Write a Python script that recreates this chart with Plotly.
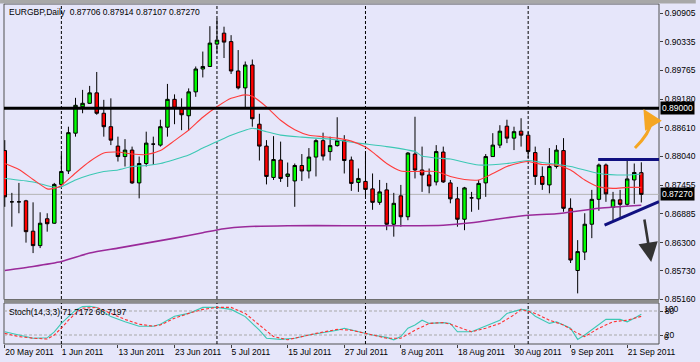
import plotly.graph_objects as go
import pandas as pd

# ---------------- data ----------------
dates = pd.bdate_range("2011-05-20", "2011-09-23")   # 91 daily bars
bars = list(range(len(dates)))

opens = [0.8815, 0.8712, 0.8712, 0.8714, 0.8653, 0.8624, 0.8678, 0.8669, 0.8747, 0.8774,
         0.8850, 0.8903, 0.8910, 0.8931, 0.8890, 0.8863, 0.8824, 0.8803, 0.8816, 0.8750,
         0.8789, 0.8828, 0.8826, 0.8862, 0.8918, 0.8900, 0.8885, 0.8933, 0.8979, 0.8984,
         0.9029, 0.9051, 0.9034, 0.8975, 0.8941, 0.8987, 0.8868, 0.8824, 0.8761, 0.8796,
         0.8763, 0.8754, 0.8785, 0.8774, 0.8802, 0.8835, 0.8813, 0.8825, 0.8835, 0.8796,
         0.8751, 0.8753, 0.8738, 0.8711, 0.8736, 0.8667, 0.8724, 0.8682, 0.8808, 0.8776,
         0.8766, 0.8752, 0.8812, 0.8750, 0.8718, 0.8677, 0.8720, 0.8718, 0.8750, 0.8803,
         0.8826, 0.8864, 0.8840, 0.8854, 0.8846, 0.8811, 0.8763, 0.8746, 0.8783, 0.8815,
         0.8699, 0.8574, 0.8611, 0.8667, 0.8717, 0.8786, 0.8701, 0.8716, 0.8707, 0.8756,
         0.87706]
highs = [0.8836, 0.8730, 0.8750, 0.8716, 0.8711, 0.8691, 0.8689, 0.8750, 0.8808, 0.8863,
         0.8921, 0.8937, 0.8945, 0.8973, 0.8917, 0.8920, 0.8843, 0.8838, 0.8823, 0.8803,
         0.8853, 0.8843, 0.8877, 0.8949, 0.8928, 0.8920, 0.8940, 0.8984, 0.9014, 0.9065,
         0.9080, 0.9064, 0.9047, 0.9017, 0.8994, 0.8998, 0.8889, 0.8836, 0.8844, 0.8833,
         0.8791, 0.8789, 0.8808, 0.8820, 0.8838, 0.8851, 0.8843, 0.8882, 0.8846, 0.8803,
         0.8779, 0.8813, 0.8769, 0.8756, 0.8750, 0.8730, 0.8746, 0.8812, 0.8883, 0.8823,
         0.8779, 0.8826, 0.8823, 0.8756, 0.8742, 0.8742, 0.8732, 0.8756, 0.8808, 0.8850,
         0.8866, 0.8877, 0.8863, 0.8880, 0.8853, 0.8823, 0.8783, 0.8820, 0.8826, 0.8840,
         0.8719, 0.8635, 0.8689, 0.8736, 0.8789, 0.8789, 0.8732, 0.8736, 0.8794, 0.8789,
         0.87914]
lows = [0.8702, 0.8662, 0.8689, 0.8630, 0.8609, 0.8619, 0.8652, 0.8668, 0.8742, 0.8768,
        0.8843, 0.8890, 0.8909, 0.8887, 0.8843, 0.8826, 0.8793, 0.8783, 0.8748, 0.8719,
        0.8783, 0.8786, 0.8823, 0.8843, 0.8868, 0.8856, 0.8855, 0.8923, 0.8962, 0.8983,
        0.9011, 0.9001, 0.8969, 0.8938, 0.8900, 0.8863, 0.8795, 0.8747, 0.8756, 0.8752,
        0.8742, 0.8702, 0.8754, 0.8759, 0.8763, 0.8795, 0.8795, 0.8823, 0.8769, 0.8734,
        0.8732, 0.8722, 0.8696, 0.8706, 0.8655, 0.8642, 0.8662, 0.8675, 0.8759, 0.8732,
        0.8729, 0.8745, 0.8750, 0.8709, 0.8662, 0.8655, 0.8692, 0.8696, 0.8722, 0.8803,
        0.8820, 0.8830, 0.8816, 0.8823, 0.8800, 0.8746, 0.8736, 0.8729, 0.8779, 0.8692,
        0.8589, 0.8528, 0.8595, 0.8639, 0.8694, 0.8712, 0.8675, 0.8679, 0.8704, 0.8708,
        0.87107]
closes = [0.8722, 0.8712, 0.8712, 0.8652, 0.8624, 0.8669, 0.8668, 0.8747, 0.8773, 0.8851,
          0.8906, 0.8910, 0.8931, 0.8890, 0.8863, 0.8836, 0.8803, 0.8816, 0.8750, 0.8789,
          0.8830, 0.8828, 0.8863, 0.8918, 0.8900, 0.8887, 0.8933, 0.8979, 0.8984, 0.9031,
          0.9037, 0.9033, 0.8975, 0.8941, 0.8987, 0.8879, 0.8824, 0.8763, 0.8797, 0.8759,
          0.8768, 0.8785, 0.8774, 0.8802, 0.8835, 0.8804, 0.8825, 0.8835, 0.8795, 0.8749,
          0.8759, 0.8737, 0.8711, 0.8732, 0.8667, 0.8709, 0.8682, 0.8810, 0.8776, 0.8766,
          0.8744, 0.8813, 0.8752, 0.8718, 0.8677, 0.8740, 0.8720, 0.8749, 0.8803, 0.8826,
          0.8854, 0.8840, 0.8853, 0.8846, 0.8813, 0.8763, 0.8747, 0.8783, 0.8816, 0.8699,
          0.8595, 0.8612, 0.8667, 0.8717, 0.8786, 0.8728, 0.8716, 0.8707, 0.8758, 0.8771,
          0.87270]

# moving averages (at sample bars)
ma_red_bar = [0, 2, 4, 6, 7, 8, 10, 12, 14, 16, 18, 20, 22, 24, 26, 28, 30, 32, 34, 35, 37, 39,
              41, 43, 45, 47, 49, 51, 52, 54, 56, 58, 61, 63, 65, 67, 69, 71, 73, 74, 76, 78,
              80, 82, 84, 86, 88, 90]
ma_red = [0.8789, 0.8777, 0.8757, 0.8738, 0.8739, 0.8745, 0.8770, 0.8793, 0.8810, 0.8812,
          0.8808, 0.8807, 0.8815, 0.8835, 0.8856, 0.8882, 0.8903, 0.8920, 0.8927, 0.8924,
          0.8903, 0.8876, 0.8857, 0.8846, 0.8843, 0.8840, 0.8834, 0.8822, 0.8812, 0.8789,
          0.8774, 0.8773, 0.8773, 0.8763, 0.8757, 0.8756, 0.8769, 0.8783, 0.8791, 0.8793,
          0.8787, 0.8786, 0.8776, 0.8756, 0.8742, 0.8739, 0.8741, 0.8741]
ma_teal_bar = [0, 4, 7, 8, 10, 12, 14, 16, 18, 20, 22, 24, 26, 28, 30, 32, 34, 35, 37, 39, 42,
               46, 50, 54, 58, 59, 61, 63, 67, 71, 74, 76, 80, 84, 88, 90]
ma_teal = [0.8759, 0.8752, 0.8741, 0.8742, 0.8756, 0.8766, 0.8773, 0.8776, 0.8783, 0.8785,
           0.8789, 0.8797, 0.8806, 0.8820, 0.8833, 0.8846, 0.8856, 0.8860, 0.8853, 0.8846,
           0.8842, 0.8838, 0.8830, 0.8823, 0.8813, 0.8804, 0.8800, 0.8798, 0.8786, 0.8789,
           0.8795, 0.8791, 0.8783, 0.8769, 0.8766, 0.8768]
ma_purple_bar = [0, 4, 8, 12, 16, 20, 24, 28, 31, 34, 40, 48, 56, 62, 66, 70, 74, 78, 84, 90]
ma_purple = [0.8574, 0.8582, 0.8592, 0.8609, 0.8619, 0.8629, 0.8639, 0.8650, 0.8658, 0.8662,
             0.8664, 0.8664, 0.8664, 0.8665, 0.8670, 0.8678, 0.8685, 0.8688, 0.8699, 0.8705]

# stochastic (14,3,3)
stoch_main_bar = [0, 2, 4, 6, 7, 8, 9, 10, 11, 12, 13, 14, 15, 17, 19, 21, 22, 24, 26, 28, 30,
                  32, 34, 36, 37, 39, 41, 43, 45, 47, 48, 50, 52, 54, 55, 56, 57, 58, 59, 60,
                  62, 63, 64, 66, 68, 70, 71, 73, 74, 75, 77, 78, 80, 81, 82, 84, 85, 87, 88,
                  89, 90]
stoch_main = [28, 20, 12, 13, 28, 49, 66, 82, 91, 92, 89, 78, 66, 53, 42, 42, 47, 67, 74, 89, 89,
              84, 66, 32, 12, 9, 12, 20, 26, 32, 37, 28, 20, 14, 8, 16, 37, 45, 57, 49,
              51, 49, 28, 28, 42, 57, 74, 84, 82, 67, 49, 53, 37, 9, 20, 45, 59, 59, 53,
              62, 71.7172]
stoch_sig_bar = [0, 2, 4, 6, 7, 8, 9, 10, 11, 13, 15, 17, 19, 21, 22, 24, 26, 28, 30, 32, 34,
                 36, 38, 40, 42, 44, 47, 49, 51, 52, 54, 56, 58, 60, 62, 63, 64, 66, 68, 70,
                 72, 73, 75, 77, 79, 81, 82, 84, 86, 88, 89, 90]
stoch_sig = [24, 16, 12, 10, 20, 37, 57, 74, 87, 89, 74, 59, 47, 42, 45, 62, 74, 84, 89, 89, 74,
             45, 16, 8, 16, 24, 34, 32, 24, 20, 12, 12, 32, 49, 51, 47, 40, 28, 37, 49,
             70, 84, 74, 57, 45, 24, 16, 37, 53, 57, 62, 66.7197]

price_ticks = [0.90905, 0.90335, 0.89765, 0.89180, 0.88610, 0.88040, 0.87455, 0.86885,
               0.86300, 0.85730, 0.85160]
stoch_ticks = [80, 20]
tick_bars = [0, 8, 16, 24, 32, 40, 48, 56, 64, 72, 80, 88]
tick_labels = [f"{dates[i].day} {dates[i]:%b %Y}" for i in tick_bars]
month_starts = [i for i in range(1, len(dates)) if dates[i].month != dates[i - 1].month]

level_price = 0.89000
last_price = closes[-1]
title_text = "EURGBP,Daily\u00a0\u00a0" + " ".join(f"{v:.5f}" for v in
                                                 (opens[-1], highs[-1], lows[-1], closes[-1]))
stoch_text = f"Stoch(14,3,3) {stoch_main[-1]:.4f} {stoch_sig[-1]:.4f}"

# hand-drawn objects (bar index, price)
resist_line = dict(x0=83.9, y0=0.8797, x1=92.5, y1=0.8797)
support_line = dict(x0=84.8, y0=0.86654, x1=92.5, y1=0.87123)
up_tail = (89.1, 0.88202, 91.2, 0.88500, 91.4, 0.88725)
up_tip = (90.3, 0.88986)
down_tail = (90.4, 0.86795)
down_tip = (91.4, 0.85911)

# ---------------- figure ----------------
BG = "#E6E6FA"
FONT = "Liberation Sans, Arial, sans-serif"
W, H = 700, 362
ML, MR, MT, MB = 4, 37, 4, 18
PH = H - MT - MB
PW = W - ML - MR
main_bottom = (H - MB - 299.5) / PH
stoch_top = (H - MB - 303) / PH

fig = go.Figure()
fig.add_trace(go.Candlestick(
    x=bars, open=opens, high=highs, low=lows, close=closes,
    increasing=dict(line=dict(color="#000000", width=1), fillcolor="#00FF00"),
    decreasing=dict(line=dict(color="#000000", width=1), fillcolor="#FF0000"),
    whiskerwidth=0, xaxis="x", yaxis="y", hoverinfo="skip"))
fig.add_trace(go.Scatter(x=ma_purple_bar, y=ma_purple, mode="lines", xaxis="x", yaxis="y",
                         line=dict(color="#9A2A9A", width=1.6, shape="spline", smoothing=0.6)))
fig.add_trace(go.Scatter(x=ma_teal_bar, y=ma_teal, mode="lines", xaxis="x", yaxis="y",
                         line=dict(color="#3CC8B4", width=1.1, shape="spline", smoothing=0.6)))
fig.add_trace(go.Scatter(x=ma_red_bar, y=ma_red, mode="lines", xaxis="x", yaxis="y",
                         line=dict(color="#FF3C3C", width=1.1, shape="spline", smoothing=0.6)))
fig.add_trace(go.Scatter(x=stoch_main_bar, y=stoch_main, mode="lines", xaxis="x", yaxis="y2",
                         line=dict(color="#3CC8B4", width=1.1)))
fig.add_trace(go.Scatter(x=stoch_sig_bar, y=stoch_sig, mode="lines", xaxis="x", yaxis="y2",
                         line=dict(color="#FF3030", width=1.1, dash="3px,2px")))

shapes = []
# panel frames
shapes.append(dict(type="rect", xref="paper", yref="paper", x0=0, x1=1, y0=main_bottom, y1=1,
                   line=dict(color="#505050", width=1), layer="below"))
shapes.append(dict(type="rect", xref="paper", yref="paper", x0=0, x1=1, y0=0, y1=stoch_top,
                   line=dict(color="#505050", width=1), layer="below"))
# separator band between panels
shapes.append(dict(type="rect", xref="paper", yref="paper", x0=0, x1=1, y0=stoch_top,
                   y1=main_bottom, fillcolor="#8C8C8C", line=dict(width=0)))
# top window strip
shapes.append(dict(type="rect", xref="paper", yref="paper", x0=-ML / PW, x1=1 + MR / PW,
                   y0=1 + 0.5 / PH, y1=1 + MT / PH, fillcolor="#A8A8A8", line=dict(width=0)))
# month separators
for b in month_starts:
    shapes.append(dict(type="line", xref="x", yref="paper", x0=b, x1=b, y0=0, y1=1,
                       line=dict(color="#000000", width=1, dash="3px,2px"), layer="below"))
# last price line
shapes.append(dict(type="line", xref="paper", yref="y", x0=0, x1=1, y0=last_price,
                   y1=last_price, line=dict(color="#B4B4B4", width=1), layer="below"))
# stoch levels
for lv in stoch_ticks:
    shapes.append(dict(type="line", xref="paper", yref="y2", x0=0, x1=1, y0=lv, y1=lv,
                       line=dict(color="#A8A8A8", width=1, dash="3px,2px"), layer="below"))
# 0.89 level
shapes.append(dict(type="line", xref="paper", yref="y", x0=0, x1=1, y0=level_price,
                   y1=level_price, line=dict(color="#000000", width=3)))
# triangle lines
for ln in (resist_line, support_line):
    shapes.append(dict(type="line", xref="x", yref="y", line=dict(color="#101080", width=3), **ln))
# orange curved tail
shapes.append(dict(type="path", xref="x", yref="y",
                   path=f"M {up_tail[0]},{up_tail[1]} Q {up_tail[2]},{up_tail[3]} {up_tail[4]},{up_tail[5]}",
                   line=dict(color="#F5A623", width=3)))

annotations = [
    dict(xref="paper", yref="paper", x=3 / PW, y=1 - (11.5 - MT) / PH, xanchor="left",
         yanchor="middle", text=title_text, showarrow=False,
         font=dict(family=FONT, size=8.5, color="#000000")),
    dict(xref="paper", yref="paper", x=3 / PW, y=(H - MB - 311.5) / PH, xanchor="left",
         yanchor="middle", text=stoch_text, showarrow=False,
         font=dict(family=FONT, size=8.5, color="#000000")),
    dict(xref="paper", yref="y", x=1 + 1 / PW, y=level_price, xanchor="left", yanchor="middle",
         text=f"{level_price:.5f}", showarrow=False, bgcolor="#000000", borderpad=1,
         font=dict(family=FONT, size=8.5, color="#FFFFFF")),
    dict(xref="paper", yref="y", x=1 + 1 / PW, y=last_price, xanchor="left", yanchor="middle",
         text=f"{last_price:.5f}", showarrow=False, bgcolor="#000000", borderpad=1,
         font=dict(family=FONT, size=8.5, color="#FFFFFF")),
    dict(xref="paper", yref="y2", x=1 + 3 / PW, y=80, yshift=2, xanchor="left", yanchor="middle",
         text="100", showarrow=False, font=dict(family=FONT, size=8.5, color="#000000")),
    dict(xref="paper", yref="y2", x=1 + 3 / PW, y=20, yshift=-2, xanchor="left", yanchor="middle",
         text="0", showarrow=False, font=dict(family=FONT, size=8.5, color="#000000")),
    dict(xref="x", yref="y", x=up_tip[0], y=up_tip[1], ax=up_tail[4], ay=up_tail[5],
         axref="x", ayref="y", text="", showarrow=True, arrowhead=2, arrowsize=1.3,
         arrowwidth=3, arrowcolor="#F5A623", standoff=0, startstandoff=0),
    dict(xref="x", yref="y", x=down_tip[0], y=down_tip[1], ax=down_tail[0], ay=down_tail[1],
         axref="x", ayref="y", text="", showarrow=True, arrowhead=2, arrowsize=1.5,
         arrowwidth=2.6, arrowcolor="#333333", standoff=0, startstandoff=0),
]

fig.update_layout(
    width=W, height=H,
    margin=dict(l=ML, r=MR, t=MT, b=MB, pad=0),
    paper_bgcolor=BG, plot_bgcolor=BG,
    showlegend=False, hovermode=False,
    font=dict(family=FONT, size=8.5, color="#000000"),
    xaxis=dict(domain=[0, 1], anchor="y2", range=[-0.11, 92.5], tickmode="array",
               tickvals=tick_bars, ticktext=tick_labels, ticks="outside", ticklen=3,
               tickcolor="#404040", ticklabelposition="outside right", showgrid=False,
               zeroline=False, showline=False, rangeslider=dict(visible=False),
               tickfont=dict(family=FONT, size=8.5, color="#000000")),
    yaxis=dict(domain=[main_bottom, 1], anchor="x", side="right", range=[0.85157, 0.91096],
               tickmode="array", tickvals=price_ticks, ticktext=[f"{v:.5f}" for v in price_ticks],
               ticks="outside", ticklen=3, tickcolor="#404040", showgrid=False, zeroline=False,
               showline=False, tickfont=dict(family=FONT, size=8.5, color="#000000")),
    yaxis2=dict(domain=[0, stoch_top], anchor="x", side="right", range=[-2.5, 100],
                tickmode="array", tickvals=stoch_ticks, ticktext=[str(v) for v in stoch_ticks],
                ticks="outside", ticklen=3, tickcolor="#404040", showgrid=False, zeroline=False,
                showline=False, tickfont=dict(family=FONT, size=8.5, color="#000000")),
    shapes=shapes,
    annotations=annotations,
)

fig.write_html("out.html", config={"displayModeBar": False, "staticPlot": True},
               post_script="document.body.style.margin='0';"
                           "document.body.style.padding='0';")
